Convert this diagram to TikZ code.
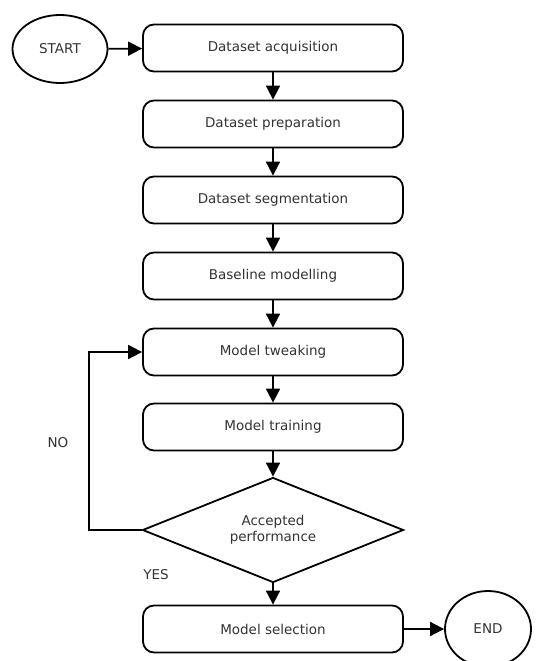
\documentclass[tikz,border=0pt]{standalone}
\usepackage{fontspec}
\setmainfont{DejaVu Sans}
\usetikzlibrary{arrows.meta,shapes.geometric}

\tikzset{
  stepbox/.style={draw, line width=1.8pt, rounded corners=11pt, minimum width=260pt, minimum height=47pt, inner sep=0pt, text=black!80, font=\fontsize{13.5}{16}\selectfont},
  ends/.style={draw, ellipse, line width=1.8pt, inner sep=0pt, text=black!80, font=\fontsize{13.5}{16}\selectfont},
  check/.style={draw, diamond, aspect=2.5, line width=1.8pt, minimum width=261pt, minimum height=105pt, inner sep=0pt, align=center, text=black!80, font=\fontsize{13.5}{16}\selectfont},
  flow/.style={line width=1.8pt, -{Triangle[length=14pt,width=14pt]}},
  answer/.style={text=black!80, font=\fontsize{13.5}{16}\selectfont}
}

\begin{document}
\begin{tikzpicture}[x=1pt, y=-1pt]
			%%%%% START %%%%%
			\useasboundingbox (0, 0) rectangle (543, 661);
			
			\node[ends, minimum width=95pt, minimum height=68pt] (start) at (60, 49) {START};
			\node[ends, minimum width=86pt, minimum height=76pt] (end) at (488, 629) {END};
			
			\node[stepbox] (acq) at (273, 48) {Dataset acquisition};
			\node[stepbox] (prep) at (273, 124) {Dataset preparation};
			\node[stepbox] (seg) at (273, 200) {Dataset segmentation};
			\node[stepbox] (base) at (273, 276) {Baseline modelling};
			\node[stepbox] (tweak) at (273, 352) {Model tweaking};
			\node[stepbox] (train) at (273, 427) {Model training};
			\node[check] (accept) at (273, 530) {Accepted\\performance};
			\node[stepbox] (select) at (273, 629) {Model selection};
			
			\node[answer] (no) at (58, 443) {NO};
			\node[answer] (yes) at (156, 575) {YES};
			
			\draw[flow] (start) -- (acq);
			\draw[flow] (acq) -- (prep);
			\draw[flow] (prep) -- (seg);
			\draw[flow] (seg) -- (base);
			\draw[flow] (base) -- (tweak);
			\draw[flow] (tweak) -- (train);
			\draw[flow] (train) -- (accept);
			\draw[flow] (accept) -- (select);
			\draw[flow] (select) -- (end);
			
			\draw[flow] (accept.west) -- ++(-53, 0) |- (tweak.west);
			
			%%%%% END %%%%%
\end{tikzpicture}
\end{document}
